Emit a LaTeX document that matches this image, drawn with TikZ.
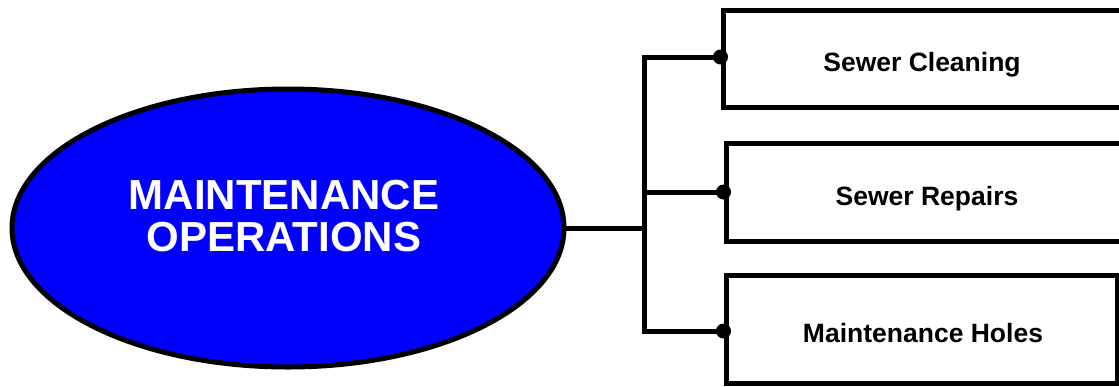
\documentclass[tikz,border=0pt]{standalone}
\usepackage{fontspec}
\setmainfont{Liberation Sans}
\usetikzlibrary{shapes.geometric}
\begin{document}
\begin{tikzpicture}[x=1pt,y=-1pt,
  line width=5pt,
  hub/.style={ellipse,draw=black,fill=blue,line width=5pt,minimum width=552pt,minimum height=278pt,inner sep=0pt},
  hubtext/.style={text=white,font=\fontsize{42}{42}\selectfont\bfseries,align=center,inner sep=0pt},
  taskbox/.style={rectangle,draw=black,fill=white,line width=5pt,inner sep=0pt},
  tasktext/.style={font=\fontsize{26.5}{28}\selectfont\bfseries,inner sep=0pt,anchor=base},
  link/.style={line width=5pt,line cap=rect},
  dot/.style={circle,fill=black,inner sep=0pt,minimum size=15pt}]
\useasboundingbox (0,0) rectangle (1119,386);
\clip (0,0) rectangle (1119,386);
\node[hub] (main) at (288,228) {};
\node[hubtext] (maintext) at (284,216) {MAINTENANCE\\OPERATIONS};
\node[taskbox,minimum width=402pt,minimum height=97pt] (b1) at (924,58.5) {};
\node[taskbox,minimum width=399pt,minimum height=98pt] (b2) at (925.5,192) {};
\node[taskbox,minimum width=391pt,minimum height=108pt] (b3) at (921.5,329) {};
\node[tasktext] (t1) at (922,71) {Sewer Cleaning};
\node[tasktext] (t2) at (927,205) {Sewer Repairs};
\node[tasktext] (t3) at (923,342) {Maintenance Holes};
\coordinate (j) at (644,228);
\coordinate (jt) at (644,57);
\coordinate (jb) at (644,331);
\draw[link] (main.east) -- (j);
\draw[link] (jt) -- (jb);
\draw[link] (jt) -- (b1.west |- jt);
\draw[link] (j |- b2.west) -- (b2.west);
\draw[link] (jb) -- (b3.west |- jb);
\node[dot] at (b1.west |- jt) {};
\node[dot] at (b2.west) {};
\node[dot] at (b3.west |- jb) {};
\end{tikzpicture}
\end{document}
